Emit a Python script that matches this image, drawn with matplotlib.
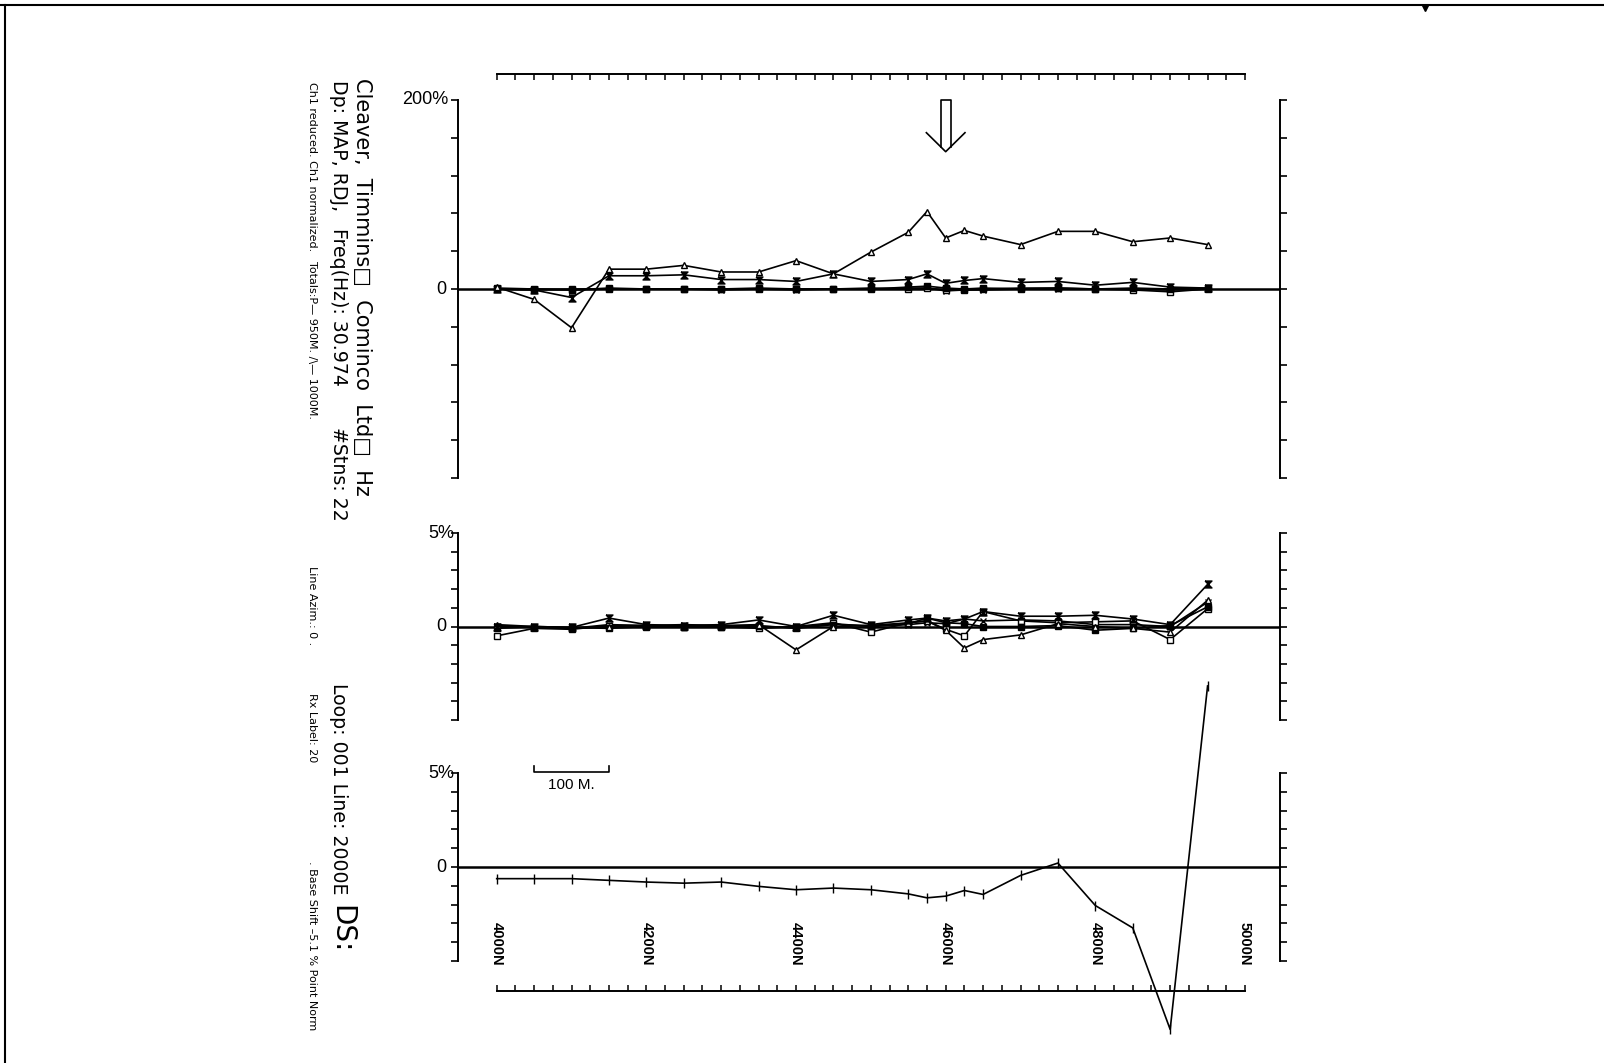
import numpy as np
import matplotlib.pyplot as plt
from matplotlib.lines import Line2D

# station positions along line 2000E (metres north)
stations = [4000, 4050, 4100, 4150, 4200, 4250, 4300, 4350, 4400, 4450, 4500,
            4550, 4575, 4600, 4625, 4650, 4700, 4750, 4800, 4850, 4900, 4950]

# channel profiles, upper panel (%)
top_tri = [2, -11, -41, 21, 21, 25, 18, 18, 30, 16, 39, 60, 82, 54, 62, 56, 47, 61, 61, 50, 54, 47]
top_hour = [0, -1, -9, 14, 14, 15, 10, 10, 8, 16, 8, 10, 16, 6, 9, 11, 7, 8, 4, 7, 2, 1]
top_fsq = [1, 0, -1, 1, 0, 0, 0, 0, 0, 0, 0, 2, 3, 1, 0, 1, 0, 1, 0, 1, 0, 1]
top_osq = [0, -1, 0, 0, 0, 0, 0, 1, 0, 0, 1, 0, 1, -1, -1, 0, 1, 1, 0, -1, -3, 0]
top_x = [0, 0, -1, 0, 0, 0, -1, 0, -1, 0, 0, 1, 1, -2, -1, -1, 0, 0, 0, 0, -1, 0]

# channel profiles, middle panel (%)
mid_hour = [0.0, 0.0, -0.05, 0.45, 0.1, 0.05, 0.1, 0.35, 0.0, 0.6, 0.1, 0.35,
            0.45, 0.3, 0.4, 0.8, 0.55, 0.55, 0.6, 0.4, 0.1, 2.25]
mid_tri = [0.1, 0.0, -0.1, 0.0, 0.05, 0.0, 0.05, 0.1, -1.25, 0.0, 0.05, 0.2,
           0.3, -0.2, -1.15, -0.7, -0.45, 0.15, 0.0, -0.1, -0.3, 1.4]
mid_osq = [-0.5, -0.1, -0.15, 0.05, 0.05, 0.0, 0.0, -0.1, 0.0, 0.2, -0.3, 0.2,
           0.3, -0.15, -0.5, 0.8, 0.3, 0.2, 0.25, 0.3, -0.7, 0.95]
mid_fsq = [-0.1, 0.0, -0.05, -0.1, 0.0, 0.0, 0.0, 0.05, -0.1, 0.1, 0.05, 0.15,
           0.45, 0.2, 0.15, 0.0, 0.0, 0.05, -0.2, -0.1, 0.05, 1.05]
mid_x = [0.05, -0.05, -0.1, 0.1, 0.05, 0.1, 0.05, 0.0, -0.05, 0.15, 0.0, 0.1,
         0.2, 0.15, 0.4, 0.3, 0.35, 0.3, 0.1, 0.1, 0.0, 1.3]

# channel 1, lower panel (%)
ch1 = [-0.62, -0.62, -0.62, -0.71, -0.80, -0.86, -0.80, -1.03, -1.21, -1.12, -1.21,
       -1.43, -1.64, -1.55, -1.25, -1.46, -0.45, 0.21, -2.05, -3.24, -8.64, 9.63]

x_labels = [4000, 4200, 4400, 4600, 4800, 5000]
anomaly_at = 4600

W, H = 1604, 1063
LEFT_PX, RIGHT_PX = 458, 1280
N0_PX, PX_PER_M = 496.7, 0.7483
XMIN = 4000 - (N0_PX - LEFT_PX) / PX_PER_M
XMAX = 4000 + (RIGHT_PX - N0_PX) / PX_PER_M

SANS = ['Liberation Sans', 'DejaVu Sans']
HOUR = [(-1, 1), (1, 1), (-1, -1), (1, -1), (-1, 1)]

fig = plt.figure(figsize=(W / 100, H / 100), dpi=100)


def fp(x, y):
    return x / W, 1 - y / H


def add_panel(top, bottom, lim, label):
    ax = fig.add_axes([LEFT_PX / W, 1 - bottom / H, (RIGHT_PX - LEFT_PX) / W, (bottom - top) / H])
    ax.set_xlim(XMIN, XMAX)
    ax.set_ylim(-lim, lim)
    ax.patch.set_visible(False)
    ax.spines['top'].set_visible(False)
    ax.spines['bottom'].set_visible(False)
    ax.spines['left'].set_linewidth(1.4)
    ax.spines['right'].set_linewidth(1.4)
    ax.set_xticks([])
    ax.set_yticks(np.linspace(-lim, lim, 11))
    ax.tick_params(axis='y', left=True, right=True, direction='out', length=5,
                   width=1.2, labelleft=False)
    ax.axhline(0, color='black', lw=1.8, zorder=1)
    ax.text(-0.012 if label != '5%' else -0.004, 1.0, label, transform=ax.transAxes,
            ha='right', va='center', fontsize=13, family=SANS)
    ax.text(-0.014, 0.5, '0', transform=ax.transAxes, ha='right', va='center',
            fontsize=13, family=SANS)
    return ax


def add_bar(y_px, upper):
    h = 10
    b = y_px + h if upper else y_px
    ax = fig.add_axes([LEFT_PX / W, 1 - b / H, (RIGHT_PX - LEFT_PX) / W, h / H])
    ax.set_xlim(XMIN, XMAX)
    ax.patch.set_visible(False)
    for s in ax.spines.values():
        s.set_visible(False)
    side = 'top' if upper else 'bottom'
    ax.spines[side].set_visible(True)
    ax.spines[side].set_bounds(4000, 5000)
    ax.spines[side].set_linewidth(1.4)
    ax.set_yticks([])
    ax.set_xticks(np.arange(4000, 5001, 25))
    ax.tick_params(axis='x', top=upper, bottom=not upper, direction='in', length=4,
                   width=1.1, labelbottom=False, labeltop=False)


def profile(ax, y, marker, filled, ms=5):
    ax.plot(stations, y, color='black', lw=1.2, marker=marker, ms=ms,
            mfc='black' if filled else 'white', mec='black', mew=1.0, clip_on=False)


ax_t = add_panel(100, 478, 200, '200%')
ax_m = add_panel(533, 720, 5, '5%')
ax_b = add_panel(773, 961, 5, '5%')
add_bar(74, True)
add_bar(991, False)

profile(ax_t, top_x, 'x', False)
profile(ax_t, top_osq, 's', False)
profile(ax_t, top_fsq, 's', True)
profile(ax_t, top_hour, HOUR, True)
profile(ax_t, top_tri, '^', False)

profile(ax_m, mid_x, 'x', False)
profile(ax_m, mid_osq, 's', False)
profile(ax_m, mid_fsq, 's', True)
profile(ax_m, mid_tri, '^', False)
profile(ax_m, mid_hour, HOUR, True)

profile(ax_b, ch1, '|', False, ms=7)

for n in x_labels:
    ax_b.text(n, -2.95, f'{n}N', rotation=-90, ha='center', va='top',
              fontsize=10.5, fontweight='bold', family=SANS)

# 100 m scale bar
ax_b.plot([4050, 4050, 4150, 4150], [5.35, 5.03, 5.03, 5.35], color='black', lw=1.2, clip_on=False)
ax_b.text(4100, 4.37, '100 M.', ha='center', va='center', fontsize=11, family=SANS)

# open arrow over the anomaly
dx_s, dx_h = 5 / PX_PER_M, 19.3 / PX_PER_M
ax_t.plot([anomaly_at - dx_s, anomaly_at - dx_s, anomaly_at + dx_s, anomaly_at + dx_s],
          [150.7, 200.0, 200.0, 150.7], color='black', lw=1.2, clip_on=False)
ax_t.plot([anomaly_at - dx_h, anomaly_at, anomaly_at + dx_h], [165.4, 145.3, 165.4],
          color='black', lw=1.2, clip_on=False)


# header text, running down the left side
def side_text(x, y, s, size, weight='normal'):
    fig.text(*fp(x, y), s, rotation=-90, rotation_mode='anchor', ha='left',
             va='baseline', fontsize=size, fontweight=weight, family=['DejaVu Sans'])


side_text(356, 78, 'Cleaver,  Timmins\u25a1  Cominco  Ltd\u25a1  Hz', 15)

for y, s in ((80, 'Dp: MAP, RDJ,'), (228, 'Freq(Hz): 30.974'), (427, '#Stns: 22'),
             (683, 'Loop: 001 Line: 2000E')):
    side_text(333, y, s, 13.6)
side_text(333, 905, 'DS:', 20)

for y, s in ((82, 'Ch1 reduced. Ch1 normalized.'),
             (261, 'Totals:P\u2014 950M. /\\\u2014 1000M.'),
             (566, 'Line Azim.: 0 .'), (693, 'Rx Label: 20'),
             (861, '. Base Shift \u20135.1 % Point Norm')):
    side_text(309, y, s, 8)

# page frame
fig.add_artist(Line2D([0, 1], [1 - 5 / H, 1 - 5 / H], color='black', lw=1.5))
fig.add_artist(Line2D([5 / W, 5 / W], [0, 1 - 5 / H], color='black', lw=1.5))
fig.add_artist(Line2D([1425 / W], [1 - 8 / H], marker='v', ms=4, color='black'))

fig.savefig('out.png', dpi=100)
